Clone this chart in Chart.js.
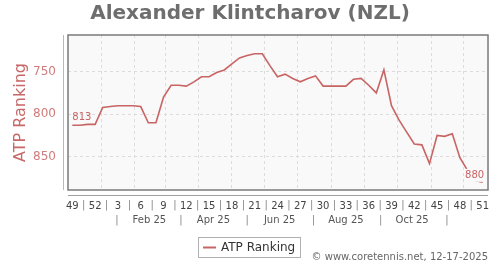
<!DOCTYPE html>
<html lang="en">
<head>
  <meta charset="UTF-8" />
  <title>Alexander Klintcharov (NZL) - ATP Ranking</title>
  <script src="https://cdn.jsdelivr.net/npm/chart.js"></script>
  <style>
    html, body { margin: 0; padding: 0; background: #fff; }
    canvas { display: block; }
  </style>
</head>
<body>
  <canvas id="chart" width="500" height="270"></canvas>

  <script>
    const FONT = "'DejaVu Sans', Verdana, sans-serif";

    // weekly ranking, ISO week 49/2024 .. week 51/2025
    const weekNumbers = [49, 50, 51, 52, 1, 2, 3, 4, 5, 6, 7, 8, 9, 10, 11, 12, 13, 14, 15, 16,
      17, 18, 19, 20, 21, 22, 23, 24, 25, 26, 27, 28, 29, 30, 31, 32, 33, 34, 35, 36, 37, 38,
      39, 40, 41, 42, 43, 44, 45, 46, 47, 48, 49, 50, 51];
    const ranking = [813, 813, 812, 812, 792, 791, 790, 790, 790, 791, 810, 810, 780, 766, 766,
      767, 762, 756, 756, 751, 748, 741, 734, 731, 729, 729, 743, 756, 753, 758, 762, 758, 755,
      767, 767, 767, 767, 759, 758, 766, 775, 748, 790, 807, 821, 835, 836, 858, 825, 826, 823,
      851, 866, 878, 880];

    const yTicks = [750, 800, 850];
    const startDate = '2024-12-06';
    const monthStarts = ['2025-01-01', '2025-02-01', '2025-03-01', '2025-04-01', '2025-05-01',
      '2025-06-01', '2025-07-01', '2025-08-01', '2025-09-01', '2025-10-01', '2025-11-01', '2025-12-01'];
    const monthLabels = ['Feb 25', 'Apr 25', 'Jun 25', 'Aug 25', 'Oct 25'];
    const monthLabelDates = ['2025-02-15', '2025-04-15', '2025-06-15', '2025-08-15', '2025-10-15'];
    const monthSepDates = ['2025-01-16', '2025-03-16', '2025-05-16', '2025-07-16', '2025-09-16', '2025-11-16'];

    const weekOf = d => (Date.parse(d) - Date.parse(startDate)) / (7 * 86400000);

    const lineColor = '#c86464';
    const plotBg = '#f9f9f9';

    const decor = {
      id: 'decor',
      beforeDraw(chart) {
        const { ctx, chartArea: a } = chart;
        ctx.save();
        ctx.fillStyle = plotBg;
        ctx.fillRect(a.left, a.top, a.right - a.left, a.bottom - a.top);
        ctx.restore();
      },
      beforeDatasetsDraw(chart) {
        const { ctx, chartArea: a } = chart;
        const x = chart.scales.x;
        ctx.save();
        ctx.strokeStyle = '#dcdcdc';
        ctx.lineWidth = 1;
        ctx.setLineDash([3, 3]);
        monthStarts.forEach(d => {
          const px = Math.round(x.getPixelForValue(weekOf(d))) + 0.5;
          ctx.beginPath();
          ctx.moveTo(px, a.top);
          ctx.lineTo(px, a.bottom);
          ctx.stroke();
        });
        ctx.restore();
      },
      afterDraw(chart) {
        const { ctx, chartArea: a } = chart;
        const x = chart.scales.x;
        const y = chart.scales.y;
        ctx.save();

        // plot frame
        ctx.strokeStyle = '#7a7a7a';
        ctx.lineWidth = 1.5;
        ctx.strokeRect(a.left, a.top, a.right - a.left, a.bottom - a.top);

        // offset axis lines
        ctx.lineWidth = 1;
        ctx.strokeStyle = '#e2a8a8';
        ctx.beginPath();
        ctx.moveTo(63.5, a.top);
        ctx.lineTo(63.5, a.bottom);
        ctx.stroke();
        ctx.strokeStyle = '#a0a0a0';
        ctx.beginPath();
        ctx.moveTo(a.left, a.bottom + 5.5);
        ctx.lineTo(a.right, a.bottom + 5.5);
        ctx.stroke();

        // title
        ctx.fillStyle = '#6e6e6e';
        ctx.font = 'bold 20px ' + FONT;
        ctx.textAlign = 'center';
        ctx.textBaseline = 'middle';
        ctx.fillText('Alexander Klintcharov (NZL)', 250, 14);

        // y axis title
        ctx.save();
        ctx.translate(21, (a.top + a.bottom) / 2);
        ctx.rotate(-Math.PI / 2);
        ctx.fillStyle = '#c86868';
        ctx.font = '16px ' + FONT;
        ctx.fillText('ATP Ranking', 0, 0);
        ctx.restore();

        // week label separators
        ctx.font = '10px ' + FONT;
        ctx.fillStyle = '#888';
        for (let i = 0; i + 3 < weekNumbers.length; i += 3) {
          ctx.fillText('|', x.getPixelForValue(i + 1.5), 205);
        }
        // month row
        monthSepDates.forEach(d => ctx.fillText('|', x.getPixelForValue(weekOf(d)), 220));
        ctx.fillStyle = '#555';
        monthLabels.forEach((t, i) => ctx.fillText(t, x.getPixelForValue(weekOf(monthLabelDates[i])), 220));

        // first / last value labels
        ctx.font = '10px ' + FONT;
        ctx.fillStyle = lineColor;
        const last = ranking.length - 1;
        ctx.textAlign = 'left';
        ctx.fillText(String(ranking[0]), x.getPixelForValue(0), y.getPixelForValue(ranking[0]) - 8);
        const lx = x.getPixelForValue(last) + 1.5;
        const ly = y.getPixelForValue(ranking[last]) - 6.5;
        ctx.fillStyle = plotBg;
        ctx.fillRect(lx - 19, ly - 7, 20, 13);
        ctx.fillStyle = lineColor;
        ctx.textAlign = 'right';
        ctx.fillText(String(ranking[last]), lx, ly);

        // legend
        ctx.strokeStyle = '#b0b0b0';
        ctx.strokeRect(198.5, 237.5, 102, 20);
        ctx.strokeStyle = lineColor;
        ctx.lineWidth = 2;
        ctx.beginPath();
        ctx.moveTo(203, 247.5);
        ctx.lineTo(216, 247.5);
        ctx.stroke();
        ctx.fillStyle = '#333';
        ctx.font = '12px ' + FONT;
        ctx.textAlign = 'left';
        ctx.fillText('ATP Ranking', 221, 247.5);

        // copyright
        ctx.fillStyle = '#666';
        ctx.font = '10px ' + FONT;
        ctx.textAlign = 'right';
        ctx.fillText('\u00a9 www.coretennis.net, 12-17-2025', 488, 257);

        ctx.restore();
      }
    };

    new Chart(document.getElementById('chart'), {
      type: 'line',
      data: {
        datasets: [{
          label: 'ATP Ranking',
          data: ranking.map((r, i) => ({ x: i, y: r })),
          borderColor: lineColor,
          borderWidth: 1.6,
          pointRadius: 0,
          tension: 0,
          fill: false
        }]
      },
      options: {
        responsive: false,
        animation: false,
        layout: { padding: { top: 35, right: 12, bottom: 0, left: 0 } },
        plugins: { legend: { display: false }, title: { display: false }, tooltip: { enabled: false } },
        scales: {
          x: {
            type: 'linear',
            min: -0.57,
            max: 54.7,
            afterBuildTicks: s => {
              s.ticks = weekNumbers.map((w, i) => ({ value: i })).filter(t => t.value % 3 === 0);
            },
            afterFit: s => { s.height = 80; },
            grid: { display: false },
            border: { display: false },
            ticks: {
              autoSkip: false,
              maxRotation: 0,
              padding: 2,
              color: '#444',
              font: { family: FONT, size: 10 },
              callback: v => weekNumbers[v]
            }
          },
          y: {
            reverse: true,
            min: 707,
            max: 889,
            afterBuildTicks: s => { s.ticks = yTicks.map(v => ({ value: v })); },
            afterFit: s => { s.width = 68; },
            grid: { color: '#dcdcdc', drawTicks: false },
            border: { display: false, dash: [3, 3] },
            ticks: {
              padding: 12,
              color: '#d07c7c',
              font: { family: FONT, size: 12 }
            }
          }
        }
      },
      plugins: [decor]
    });
  </script>
</body>
</html>
